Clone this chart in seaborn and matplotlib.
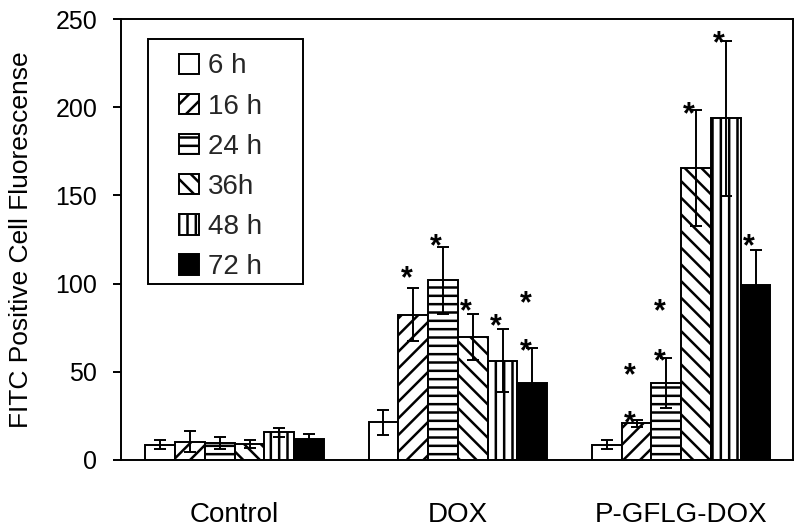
import pandas as pd
import numpy as np
import seaborn as sns
import matplotlib.pyplot as plt
from matplotlib.patches import Rectangle

groups = ["Control", "DOX", "P-GFLG-DOX"]
times = ["6 h", "16 h", "24 h", "36h", "48 h", "72 h"]

# mean fluorescence per time point, one list per group
control_mean = [8.5, 10.4, 9.5, 9.0, 15.7, 11.9]
dox_mean = [21.3, 82.2, 102.0, 69.9, 56.3, 43.5]
pgflg_mean = [8.5, 20.8, 43.5, 165.4, 193.7, 99.2]

control_err = [2.5, 6.0, 3.5, 2.0, 2.5, 2.6]
dox_err = [7.0, 15.0, 19.0, 13.0, 18.0, 20.0]
pgflg_err = [2.5, 2.0, 14.0, 33.0, 44.0, 20.0]

# significance stars: group, time, height of star
star_group = ["DOX", "DOX", "DOX", "DOX", "DOX", "DOX",
              "P-GFLG-DOX", "P-GFLG-DOX", "P-GFLG-DOX", "P-GFLG-DOX",
              "P-GFLG-DOX", "P-GFLG-DOX", "P-GFLG-DOX"]
star_time = ["16 h", "24 h", "36h", "48 h", "72 h", "72 h",
             "16 h", "16 h", "24 h", "24 h", "36h", "48 h", "72 h"]
star_value = [107.7, 125.7, 89.0, 80.7, 93.5, 66.3,
              25.5, 52.9, 60.5, 88.8, 201.0, 241.0, 125.7]

means = [control_mean, dox_mean, pgflg_mean]
errs = [control_err, dox_err, pgflg_err]

data = pd.DataFrame({
    "group": np.repeat(groups, len(times)),
    "time": times * len(groups),
    "value": np.concatenate(means),
    "err": np.concatenate(errs),
})

sns.set_theme(style="white")
plt.rcParams["font.family"] = ["Liberation Sans", "DejaVu Sans"]
plt.rcParams["hatch.linewidth"] = 1.8
plt.rcParams["hatch.color"] = "black"

fig, ax = plt.subplots(figsize=(8, 5.31), dpi=100)
fig.subplots_adjust(left=0.151, right=0.991, top=0.964, bottom=0.134)

colors = ["white", "white", "white", "white", "white", "black"]
hatches = ["", "//", "--", "\\\\", "||", ""]

sns.barplot(
    data=data, x="group", y="value", hue="time",
    order=groups, hue_order=times,
    palette=colors, saturation=1, errorbar=None,
    edgecolor="black", linewidth=1.4, width=0.8,
    legend=False, ax=ax
)

bar_sets = list(ax.containers)

for cont, h in zip(bar_sets, hatches):
    for bar in cont:
        bar.set_hatch(h)

# error bars
for i, cont in enumerate(bar_sets):
    xs = [b.get_x() + b.get_width() / 2 for b in cont]
    ys = [means[g][i] for g in range(len(groups))]
    es = [errs[g][i] for g in range(len(groups))]
    ax.errorbar(xs, ys, yerr=es, fmt="none", ecolor="black",
                elinewidth=1.4, capsize=4.5, capthick=1.4, zorder=3)

# stars
for g, t, v in zip(star_group, star_time, star_value):
    bar = bar_sets[times.index(t)][groups.index(g)]
    x = bar.get_x() + bar.get_width() / 2
    ax.annotate("*", (x, v), xytext=(-5, -12.5), textcoords="offset points",
                ha="center", va="baseline", fontsize=22, fontweight="bold",
                color="black")

ax.set_xlim(-0.51, 2.5)
ax.set_ylim(0, 250)
ax.set_yticks([0, 50, 100, 150, 200, 250])
ax.tick_params(axis="y", labelsize=18, length=6, width=1.4, direction="out",
               left=True, pad=11, colors="black")
ax.tick_params(axis="x", labelsize=20, length=0, pad=30, colors="black")
ax.set_xlabel("")
ax.set_ylabel("FITC Positive Cell Fluorescense", fontsize=19, labelpad=16,
              color="black")

for s in ax.spines.values():
    s.set_visible(True)
    s.set_color("black")
    s.set_linewidth(1.4)

# legend without its own frame, boxed by a plain rectangle
leg = ax.legend(bar_sets, times, loc="upper left",
                bbox_to_anchor=(0.086, 0.922), fontsize=20,
                frameon=False, borderpad=0, borderaxespad=0,
                handlelength=0.75, handleheight=0.75, handletextpad=0.3,
                labelspacing=0.51)
ax.add_patch(Rectangle((0.040, 0.399), 0.231, 0.556, transform=ax.transAxes,
                       fill=False, edgecolor="black", linewidth=1.4,
                       zorder=4, clip_on=False))

plt.savefig("out.png", dpi=100)
